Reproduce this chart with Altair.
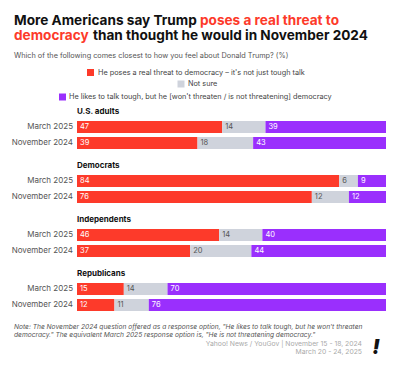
import altair as alt
import pandas as pd

# ---- data ----
groups = ["U.S. adults", "Democrats", "Independents", "Republicans"]
periods = ["March 2025", "November 2024"]
answers = [
    "He poses a real threat to democracy \u2013 it's not just tough talk",
    "Not sure",
    "He likes to talk tough, but he [won't threaten / is not threatening] democracy",
]
threat = [47, 39, 84, 76, 46, 37, 15, 12]
not_sure = [14, 18, 6, 12, 14, 20, 14, 11]
tough = [39, 43, 9, 12, 40, 44, 70, 76]

title_black_1 = "More Americans say Trump"
title_red_1 = "poses a real threat to"
title_red_2 = "democracy"
title_black_2 = "than thought he would in November 2024"
subtitle = "Which of the following comes closest to how you feel about Donald Trump? (%)"
note_lines = [
    "Note: The November 2024 question offered as a response option, \"He likes to talk tough, but he won't threaten",
    "democracy.\" The equivalent March 2025 response option is, \"He is not threatening democracy.\"",
]
source_lines = ["Yahoo! News / YouGov | November 15 - 18, 2024", "March 20 - 24, 2025"]

colors = ["#fd3a2a", "#cfd3dc", "#9a2ffd"]
RED = "#fd3a2a"
FONT = "Inter"

rows = []
i = 0
for g in groups:
    for p in periods:
        for k, (a, vals) in enumerate(zip(answers, [threat, not_sure, tough])):
            rows.append({"group": g, "period": p, "answer": a, "order": k, "value": vals[i]})
        i += 1
df = pd.DataFrame(rows)

yscale = alt.Scale(domain=groups, range=[111, 305], paddingInner=0.407, paddingOuter=0)
yenc = alt.Y("group:N", sort=groups, scale=yscale, axis=None)
yoff = alt.YOffset("period:N", sort=periods,
                   scale=alt.Scale(domain=periods, paddingInner=0.25, paddingOuter=0.125))
xscale = alt.Scale(domain=[0, 1], range=[69, 378])

base = alt.Chart(df).transform_stack(
    stack="value", groupby=["group", "period"], as_=["x0", "x1"],
    offset="normalize", sort=[alt.SortField("order")]
)

bars = base.mark_bar().encode(
    x=alt.X("x0:Q", scale=xscale, axis=None),
    x2="x1:Q",
    y=yenc,
    yOffset=yoff,
    color=alt.Color("answer:N", scale=alt.Scale(domain=answers, range=colors), legend=None),
)

values = base.mark_text(align="left", baseline="middle", dx=3, fontSize=7.5, font=FONT).encode(
    x=alt.X("x0:Q", scale=xscale, axis=None),
    y=yenc,
    yOffset=yoff,
    text="value:Q",
    color=alt.condition(alt.datum.answer == "Not sure", alt.value("#555555"), alt.value("white")),
)

period_labels = alt.Chart(df).transform_filter(alt.datum.order == 0).mark_text(
    align="right", baseline="middle", fontSize=8, font=FONT, color="#555555"
).encode(x=alt.value(65), y=yenc, yOffset=yoff, text="period:N")

group_df = pd.DataFrame({"group": groups})
group_labels = alt.Chart(group_df).mark_text(
    align="left", baseline="middle", fontSize=8, font=FONT, fontWeight="bold", color="#111111", dy=-7
).encode(
    x=alt.value(69),
    y=alt.Y("group:N", sort=groups, scale=yscale, axis=None, bandPosition=0),
    text="group:N",
)

one = pd.DataFrame({"a": [0]})


def txt(s, x, y, **kw):
    return alt.Chart(one).mark_text(text=s, font=FONT, **kw).encode(x=alt.value(x), y=alt.value(y))


layers = [bars, values, period_labels, group_labels]

# title
TS = 13.6
layers += [
    txt(title_black_1, 6, 17, align="left", baseline="alphabetic", fontSize=TS, fontWeight="bold", color="#111111"),
    txt(title_red_1, 192, 17, align="left", baseline="alphabetic", fontSize=TS, fontWeight="bold", color=RED),
    txt(title_red_2, 6, 32, align="left", baseline="alphabetic", fontSize=TS, fontWeight="bold", color=RED),
    txt(title_black_2, 85, 32, align="left", baseline="alphabetic", fontSize=TS, fontWeight="bold", color="#111111"),
    txt(subtitle, 6, 50, align="left", baseline="alphabetic", fontSize=7.3, color="#555555"),
]

# legend
leg_pos = [(82.5, 64.5, 90), (173, 76, 180), (54.5, 89, 61)]
for a, c, (sx, sy, tx) in zip(answers, colors, leg_pos):
    layers.append(
        alt.Chart(pd.DataFrame({"answer": [a]})).mark_square(size=49, opacity=1).encode(
            x=alt.value(sx), y=alt.value(sy),
            color=alt.Color("answer:N", scale=alt.Scale(domain=answers, range=colors), legend=None),
        )
    )
    layers.append(
        alt.Chart(pd.DataFrame({"answer": [a]})).mark_text(
            align="left", baseline="middle", fontSize=7.3, font=FONT, color="#444444"
        ).encode(x=alt.value(tx), y=alt.value(sy), text="answer:N")
    )

# footer
NS = 6.65
layers += [
    txt(note_lines[0], 6, 320.5, align="left", baseline="alphabetic", fontSize=NS, fontStyle="italic", color="#555555"),
    txt(note_lines[1], 6, 328.5, align="left", baseline="alphabetic", fontSize=NS, fontStyle="italic", color="#555555"),
    txt(source_lines[0], 354, 337.5, align="right", baseline="alphabetic", fontSize=6.8, color="#aaaaaa"),
    txt(source_lines[1], 354, 345.5, align="right", baseline="alphabetic", fontSize=6.8, color="#aaaaaa"),
    txt("!", 368, 340, align="center", baseline="middle", fontSize=20, fontWeight=900, fontStyle="italic", color="#111111"),
]

chart = alt.layer(*layers).properties(
    width=384, height=354, padding=0, autosize=alt.AutoSizeParams(type="none")
).configure_view(stroke=None)

chart.save("out.html", embed_options={"renderer": "svg", "actions": False})
